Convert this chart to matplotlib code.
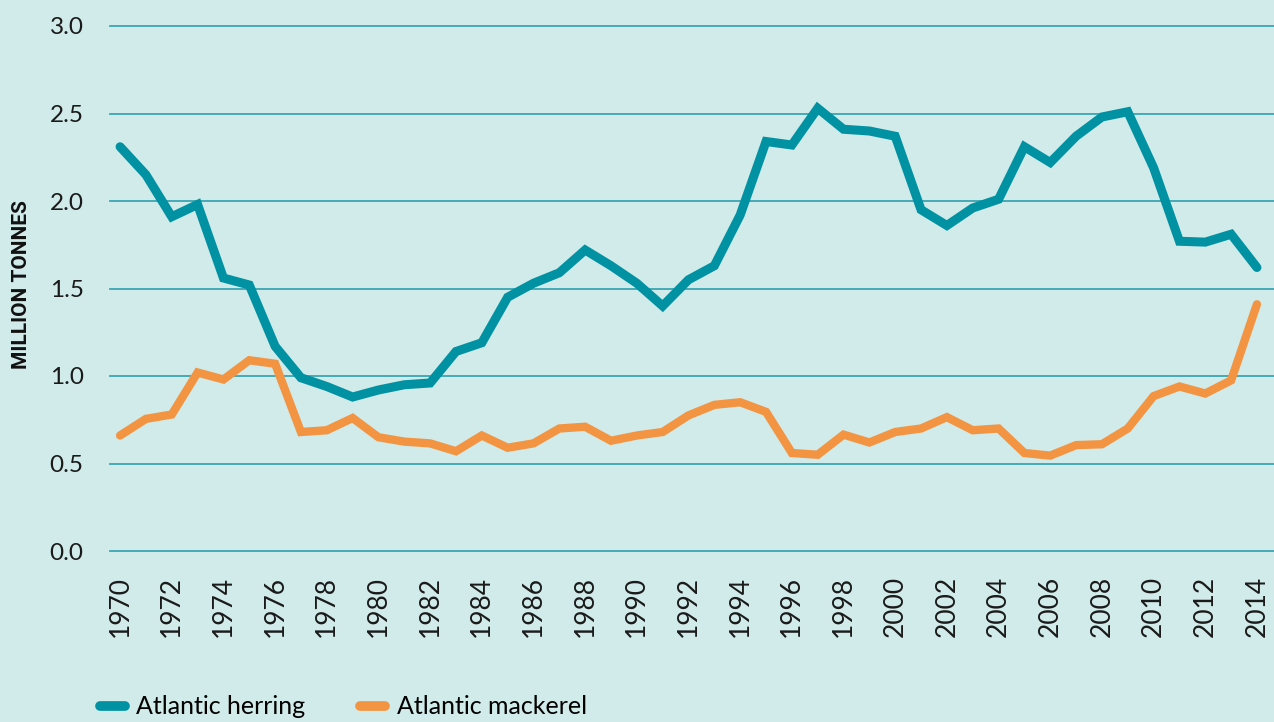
import matplotlib.pyplot as plt
from matplotlib.lines import Line2D

# Atlantic catches, million tonnes, 1970-2014
years = list(range(1970, 2015))
herring = [2.31, 2.15, 1.91, 1.98, 1.56, 1.52, 1.17, 0.99, 0.94, 0.88,
           0.92, 0.95, 0.96, 1.14, 1.19, 1.45, 1.53, 1.59, 1.72, 1.63,
           1.53, 1.40, 1.55, 1.63, 1.92, 2.34, 2.32, 2.53, 2.41, 2.40,
           2.37, 1.95, 1.86, 1.96, 2.01, 2.31, 2.22, 2.37, 2.48, 2.51,
           2.19, 1.77, 1.765, 1.81, 1.62]
mackerel = [0.66, 0.755, 0.78, 1.02, 0.98, 1.09, 1.07, 0.68, 0.69, 0.76,
            0.65, 0.625, 0.615, 0.57, 0.66, 0.59, 0.615, 0.70, 0.71, 0.63,
            0.66, 0.68, 0.775, 0.835, 0.85, 0.795, 0.56, 0.55, 0.665, 0.62,
            0.68, 0.70, 0.765, 0.69, 0.70, 0.56, 0.545, 0.605, 0.61, 0.70,
            0.885, 0.94, 0.90, 0.975, 1.41]
yticks = [0.0, 0.5, 1.0, 1.5, 2.0, 2.5, 3.0]
xticks = list(range(1970, 2015, 2))

BG = "#d0ebe9"
GRID = "#3aa6b2"
TEAL = "#0092a3"
ORANGE = "#f39442"

plt.rcParams["font.family"] = ["Lato", "DejaVu Sans"]

fig = plt.figure(figsize=(12.74, 7.22), dpi=100, facecolor=BG)
ax = fig.add_axes([110 / 1274, 171 / 722, 1 - 110 / 1274, 525 / 722])
ax.set_facecolor(BG)

ax.plot(years, herring, color=TEAL, lw=6.5, solid_capstyle="round",
        solid_joinstyle="miter", zorder=3)
ax.plot(years, mackerel, color=ORANGE, lw=6.0, solid_capstyle="round",
        solid_joinstyle="miter", zorder=3)

for y in yticks:
    ax.axhline(y, color=GRID, lw=1.3, zorder=1, clip_on=False)

ax.set_xlim(1969.61, 2014.66)
ax.set_ylim(0, 3.0)
ax.set_yticks(yticks)
ax.set_yticklabels([f"{v:.1f}" for v in yticks], fontsize=17.5, color="#1a1a1a")
ax.set_xticks(xticks)
ax.set_xticklabels([str(x) for x in xticks], rotation=90, fontsize=19,
                   color="#1a1a1a")
ax.tick_params(axis="both", length=0)
ax.tick_params(axis="y", pad=19)
ax.tick_params(axis="x", pad=18)
for s in ax.spines.values():
    s.set_visible(False)

fig.text(22 / 1274, 1 - 285 / 722, "MILLION TONNES", rotation=90,
         fontsize=15, fontweight="bold", family="Roboto",
         ha="center", va="center", color="#111111")

handles = [
    Line2D([], [], color=TEAL, lw=7, solid_capstyle="round"),
    Line2D([], [], color=ORANGE, lw=7, solid_capstyle="round"),
]
fig.legend(handles, ["Atlantic herring", "Atlantic mackerel"],
           loc="center left", bbox_to_anchor=(100 / 1274, 1 - 707 / 722),
           ncol=2, frameon=False, fontsize=18, handlelength=1.0,
           handletextpad=0.45, columnspacing=2.2, borderaxespad=0,
           borderpad=0)

fig.savefig("out.png", dpi=100, facecolor=BG)
